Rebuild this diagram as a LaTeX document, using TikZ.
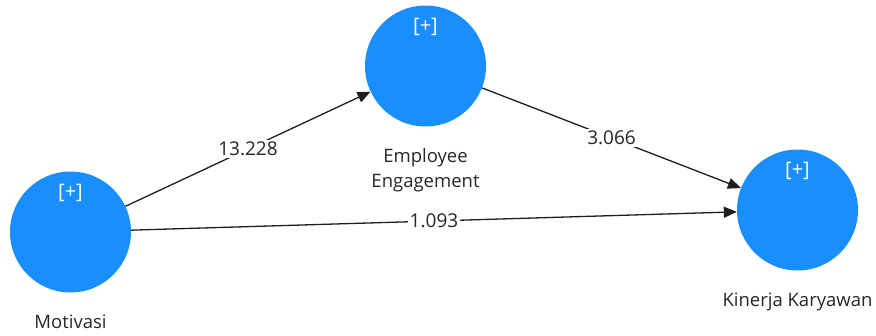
\documentclass[tikz,border=0pt]{standalone}
\usepackage{fontspec}
\setmainfont{Open Sans}
\usetikzlibrary{arrows.meta}
\definecolor{lvblue}{RGB}{24,142,255}
\definecolor{lineclr}{RGB}{30,30,30}
\tikzset{
  lv/.style={circle, fill=lvblue, draw=none, minimum size=121pt, inner sep=0pt},
  plus/.style={text=white, font=\fontsize{20}{22}\selectfont},
  lbl/.style={text=black!85, font=\fontsize{18.5}{25}\selectfont, align=center},
  path/.style={draw=lineclr, line width=1.3pt, -{Triangle[length=13pt,width=11pt]}},
  coef/.style={fill=white, inner sep=1.5pt, text=black!85, font=\fontsize{19}{22}\selectfont}
}
\begin{document}
\begin{tikzpicture}[x=1pt,y=-1pt]
\useasboundingbox (0,0) rectangle (876,335);
\node[lv] (mot) at (70.5,232) {};
\node[lv] (emp) at (425.5,66) {};
\node[lv] (kin) at (797.5,210) {};
\node[plus] (motp) at (70.5,193) {[+]};
\node[plus] (empp) at (425.5,27) {[+]};
\node[plus] (kinp) at (797.5,171) {[+]};
\node[lbl] (motl) at (70.5,322) {Motivasi};
\node[lbl, text width=160pt] (empl) at (425.5,170) {Employee\\Engagement};
\node[lbl] (kinl) at (797.5,302) {Kinerja Karyawan};
\draw[path] (mot) -- node[coef] (c1) {13.228} (emp);
\draw[path] (mot) -- node[coef] (c2) {1.093} (kin);
\draw[path] (emp) -- node[coef] (c3) {3.066} (kin);
\end{tikzpicture}
\end{document}
